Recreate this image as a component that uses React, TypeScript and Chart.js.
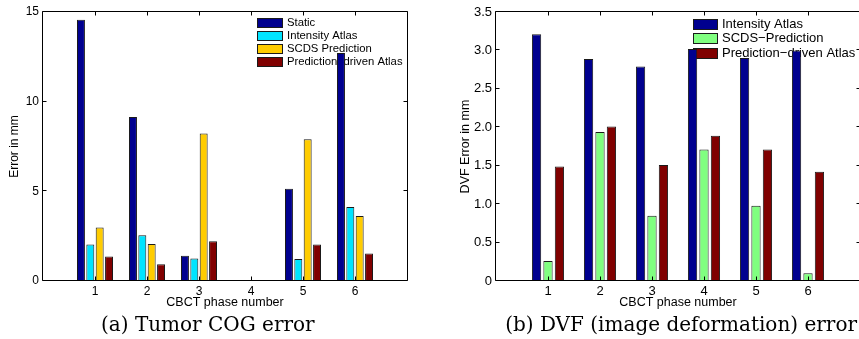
import React, { useEffect, useRef } from 'react';
import { Chart, registerables } from 'chart.js';

Chart.register(...registerables);

// ---------- data ----------
const phaseLabels = ['1', '2', '3', '4', '5', '6'];

// (a) Tumor COG error (mm)
const cogStatic = [14.57, 9.14, 1.41, 0.03, 5.15, 12.71];
const cogIntensityAtlas = [2.03, 2.55, 1.26, 0.02, 1.23, 4.13];
const cogScdsPrediction = [2.99, 2.06, 8.22, 0.03, 7.9, 3.62];
const cogPredictionAtlas = [1.36, 0.93, 2.21, 0.02, 2.03, 1.54];
const cogYMax = 15;
const cogYStep = 5;

// (b) DVF error (mm)
const dvfIntensityAtlas = [3.21, 2.89, 2.79, 3.02, 2.9, 3.0];
const dvfScdsPrediction = [0.26, 1.94, 0.85, 1.71, 0.98, 0.1];
const dvfPredictionAtlas = [1.49, 2.01, 1.51, 1.89, 1.71, 1.42];
const dvfYMax = 3.5;
const dvfYStep = 0.5;

// ---------- style ----------
const SANS = '"Liberation Sans", Arial, Helvetica, sans-serif';
const SERIF = '"DejaVu Serif", "Liberation Serif", serif';
const EDGE = '#1a1a1a';
const NAVY = '#00008f';
const CYAN = '#00e4ff';
const YELLOW = '#ffcc00';
const DARKRED = '#800000';
const GREEN = '#80ff80';

function pad(v: number[]) {
  return [null, ...v, null];
}

const matlabPlugin = {
  id: 'matlabFrame',
  beforeDatasetsDraw(chart: any, _a: any, opts: any) {
    const { ctx } = chart;
    const lg = opts.legend;
    if (!lg) return;
    ctx.save();
    ctx.font = `${lg.fontSize}px ${SANS}`;
    ctx.textBaseline = 'middle';
    ctx.textAlign = 'left';
    chart.data.datasets.forEach((ds: any, i: number) => {
      const cy = lg.top + i * lg.pitch;
      const y0 = Math.round(cy - lg.h / 2);
      ctx.fillStyle = ds.backgroundColor;
      ctx.fillRect(lg.x, y0, lg.w, lg.h);
      ctx.strokeStyle = EDGE;
      ctx.lineWidth = 1;
      ctx.strokeRect(lg.x + 0.5, y0 + 0.5, lg.w - 1, lg.h - 1);
      ctx.fillStyle = '#000';
      ctx.fillText(ds.label, lg.x + lg.w + lg.gap, cy);
    });
    ctx.restore();
  },
  afterDatasetsDraw(chart: any) {
    const { ctx, chartArea: a, scales } = chart;
    const x = scales.x;
    const y = scales.y;
    const L = Math.round(a.left) - 0.5;
    const R = Math.round(a.right) + 0.5;
    const T = Math.round(a.top) - 0.5;
    const B = Math.round(a.bottom) - 0.5;
    const tl = 4;
    ctx.save();
    ctx.strokeStyle = '#000';
    ctx.lineWidth = 1;
    ctx.beginPath();
    ctx.rect(L, T, R - L, B - T);
    x.ticks.forEach((t: any, i: number) => {
      const lbl = chart.data.labels[i];
      if (lbl === '') return;
      const px = Math.round(x.getPixelForValue(i)) + 0.5;
      ctx.moveTo(px, B);
      ctx.lineTo(px, B - tl);
      ctx.moveTo(px, T);
      ctx.lineTo(px, T + tl);
    });
    y.ticks.forEach((t: any) => {
      const py = Math.round(y.getPixelForValue(t.value)) - 0.5;
      ctx.moveTo(L, py);
      ctx.lineTo(L + tl, py);
      ctx.moveTo(R, py);
      ctx.lineTo(R - tl, py);
    });
    ctx.stroke();
    ctx.restore();
  },
};

type PanelCfg = {
  width: number;
  height: number;
  datasets: { label: string; data: number[]; color: string }[];
  yMax: number;
  yStep: number;
  yTitle: string;
  yAxisWidth: number;
  padRight: number;
  yTitlePadTop: number;
  tickFont: number;
  titleFont: number;
  catPct: number;
  barPct: number;
  legend: any;
};

function Panel({ cfg, style }: { cfg: PanelCfg; style: React.CSSProperties }) {
  const ref = useRef<HTMLCanvasElement | null>(null);
  useEffect(() => {
    if (!ref.current) return;
    const labels = ['', ...phaseLabels, ''];
    const chart = new Chart(ref.current, {
      type: 'bar',
      data: {
        labels,
        datasets: cfg.datasets.map((d) => ({
          label: d.label,
          data: pad(d.data) as any,
          backgroundColor: d.color,
          borderColor: EDGE,
          borderWidth: 1,
          borderSkipped: false,
          categoryPercentage: cfg.catPct,
          barPercentage: cfg.barPct,
        })),
      },
      options: {
        responsive: false,
        animation: false,
        devicePixelRatio: 1,
        layout: { padding: { left: 0, top: 12, right: cfg.padRight, bottom: cfg.height - 310 } },
        plugins: {
          legend: { display: false },
          tooltip: { enabled: false },
          matlabFrame: { legend: cfg.legend },
        } as any,
        scales: {
          x: {
            type: 'category',
            offset: false,
            grid: { display: false, drawTicks: false },
            border: { display: false },
            ticks: {
              autoSkip: false,
              maxRotation: 0,
              minRotation: 0,
              padding: 3,
              color: '#000',
              font: { family: SANS, size: cfg.tickFont },
            },
            title: {
              display: true,
              text: 'CBCT phase number',
              color: '#000',
              font: { family: SANS, size: 12.5 },
              padding: { top: 0, bottom: 0 },
            },
            afterFit: (s: any) => {
              s.height = 29;
            },
          },
          y: {
            min: 0,
            max: cfg.yMax,
            grid: { display: false, drawTicks: false },
            border: { display: false },
            ticks: {
              stepSize: cfg.yStep,
              padding: 4,
              color: '#000',
              font: { family: SANS, size: cfg.tickFont },
            },
            title: {
              display: true,
              text: cfg.yTitle,
              color: '#000',
              font: { family: SANS, size: cfg.titleFont },
              padding: { top: cfg.yTitlePadTop, bottom: 0 },
            },
            afterFit: (s: any) => {
              s.width = cfg.yAxisWidth;
            },
          },
        },
      },
      plugins: [matlabPlugin as any],
    });
    return () => chart.destroy();
  }, []);
  return <canvas ref={ref} width={cfg.width} height={cfg.height} style={{ position: 'absolute', ...style, width: cfg.width, height: cfg.height }} />;
}

const cogCfg: PanelCfg = {
  width: 430,
  height: 339,
  datasets: [
    { label: 'Static', data: cogStatic, color: NAVY },
    { label: 'Intensity Atlas', data: cogIntensityAtlas, color: CYAN },
    { label: 'SCDS Prediction', data: cogScdsPrediction, color: YELLOW },
    { label: 'Prediction\u2013driven Atlas', data: cogPredictionAtlas, color: DARKRED },
  ],
  yMax: cogYMax,
  yStep: cogYStep,
  yTitle: 'Error in mm',
  yAxisWidth: 43,
  padRight: 23,
  yTitlePadTop: 7,
  tickFont: 12,
  titleFont: 12,
  catPct: 0.72,
  barPct: 0.85,
  legend: { x: 257, w: 26, h: 10, gap: 4, top: 23, pitch: 13, fontSize: 11.3 },
};

const dvfCfg: PanelCfg = {
  width: 440,
  height: 339,
  datasets: [
    { label: 'Intensity Atlas', data: dvfIntensityAtlas, color: NAVY },
    { label: 'SCDS\u2212Prediction', data: dvfScdsPrediction, color: GREEN },
    { label: 'Prediction\u2212driven Atlas', data: dvfPredictionAtlas, color: DARKRED },
  ],
  yMax: dvfYMax,
  yStep: dvfYStep,
  yTitle: 'DVF Error in mm',
  yAxisWidth: 66,
  padRight: 10,
  yTitlePadTop: 28,
  tickFont: 13,
  titleFont: 12.5,
  catPct: 0.66,
  barPct: 0.81,
  legend: { x: 263, w: 25, h: 11, gap: 4, top: 24, pitch: 14.7, fontSize: 13 },
};

export default function App() {
  return (
    <div
      style={{
        position: 'fixed',
        left: 0,
        top: 0,
        width: 859,
        height: 339,
        overflow: 'hidden',
        background: '#fff',
      }}
    >
      <Panel cfg={cogCfg} style={{ left: 0, top: 0 }} />
      <Panel cfg={dvfCfg} style={{ left: 430, top: 0 }} />
      <div
        style={{
          position: 'absolute',
          left: 101,
          top: 314,
          font: `20px/20px ${SERIF}`,
          whiteSpace: 'nowrap',
          color: '#000',
        }}
      >
        (a) Tumor COG error
      </div>
      <div
        style={{
          position: 'absolute',
          right: 2,
          top: 314,
          font: `20px/20px ${SERIF}`,
          whiteSpace: 'nowrap',
          color: '#000',
        }}
      >
        (b) DVF (image deformation) error
      </div>
    </div>
  );
}
